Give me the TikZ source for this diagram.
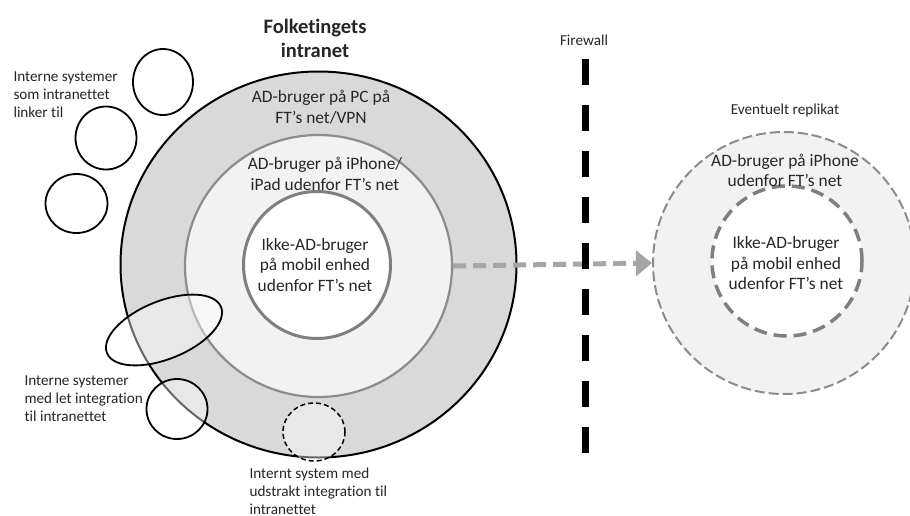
\documentclass[tikz,border=0pt]{standalone}
\usepackage{fontspec}
\setmainfont{Carlito}[Ligatures=NoCommon]
\usetikzlibrary{arrows.meta,shapes.geometric}
\definecolor{txt}{HTML}{262626}
\definecolor{ringA}{HTML}{D9D9D9}
\definecolor{ringB}{HTML}{F2F2F2}
\definecolor{lineB}{HTML}{8C8C8C}
\definecolor{lineC}{HTML}{7F7F7F}
\definecolor{arrowgray}{HTML}{A6A6A6}
\begin{document}
\begin{tikzpicture}[x=1pt,y=-1pt,
  every node/.style={text=txt},
  body/.style={font=\fontsize{17.4}{20.5}\selectfont, align=center},
  small/.style={font=\fontsize{15.2}{18}\selectfont, align=left},
  sys/.style={ellipse, draw=black, line width=1.8pt, fill=white, fill opacity=0.4, text opacity=1, inner sep=0pt},
]
\useasboundingbox (0,0) rectangle (910,515);
\fill[white] (0,0) rectangle (910,515);

% main rings
\node[ellipse, draw=black, line width=2pt, fill=ringA, minimum width=396pt, minimum height=386pt, inner sep=0pt] (outer) at (318.5,264.5) {};
\node[ellipse, draw=lineB, line width=2.2pt, fill=ringB, minimum width=267pt, minimum height=262pt, inner sep=0pt] (mid) at (318.5,266) {};
\node[circle, draw=lineC, line width=3pt, fill=white, minimum size=147pt, inner sep=0pt] (inner) at (317,265) {};

% replica
\node[circle, draw=lineB, line width=2pt, dash pattern=on 10pt off 4pt, fill=ringB, minimum size=262pt, inner sep=0pt] (rout) at (784,263) {};
\node[circle, draw=lineC, line width=3.5pt, dash pattern=on 13pt off 7pt, fill=white, minimum size=150pt, inner sep=0pt] (rin) at (787,261) {};

% texts in rings
\node[font=\fontsize{20.5}{23.5}\selectfont\bfseries, align=center] (title) at (315,38.5) {Folketingets\\intranet};
\node[body] (tA) at (321,107) {AD-bruger på PC på\\FT’s net/VPN};
\node[body] (tB) at (325,174) {AD-bruger på iPhone/\\iPad udenfor FT’s net};
\node[body] (tC) at (315,265) {Ikke-AD-bruger\\på mobil enhed\\udenfor FT’s net};
\node[body] (tD) at (785,170.5) {AD-bruger på iPhone\\udenfor FT’s net};
\node[body] (tE) at (786,263.5) {Ikke-AD-bruger\\på mobil enhed\\udenfor FT’s net};
\node[small, align=center] (repl) at (785,110) {Eventuelt replikat};
\node[small, align=center] (fw) at (584,40) {Firewall};

% systems
\node[sys, minimum width=60pt, minimum height=66pt] (s1) at (163,82) {};
\node[sys, minimum width=61pt, minimum height=63pt] (s2) at (106,138) {};
\node[sys, minimum width=62pt, minimum height=59pt] (s3) at (76.5,203.5) {};
\node[sys, minimum width=123pt, minimum height=58pt, rotate=22] (s4) at (164,330) {};
\node[sys, minimum width=61pt, minimum height=60pt] (s5) at (177,409) {};
\node[sys, line width=1.5pt, dash pattern=on 5pt off 3pt, minimum width=62pt, minimum height=58pt] (s6) at (314,432) {};

% labels
\node[small, anchor=west] (l1) at (10,94.5) {Interne systemer\\som intranettet\\linker til};
\node[small, anchor=west] (l2) at (21,398.5) {Interne systemer\\med let integration\\til intranettet};
\node[small, anchor=west] (l3) at (246,491.5) {Internt system med\\udstrakt integration til\\intranettet};

% arrow
\draw[arrowgray, line width=5pt, dash pattern=on 13pt off 7pt, -{Triangle[length=16pt,width=25pt]}] (mid.east) -- (rout.west);

% firewall
\coordinate (fwtop) at (585,59);
\coordinate (fwbot) at (585,455);
\draw[black, line width=7pt, dash pattern=on 26pt off 20pt] (fwtop) -- (fwbot);
\end{tikzpicture}
\end{document}
